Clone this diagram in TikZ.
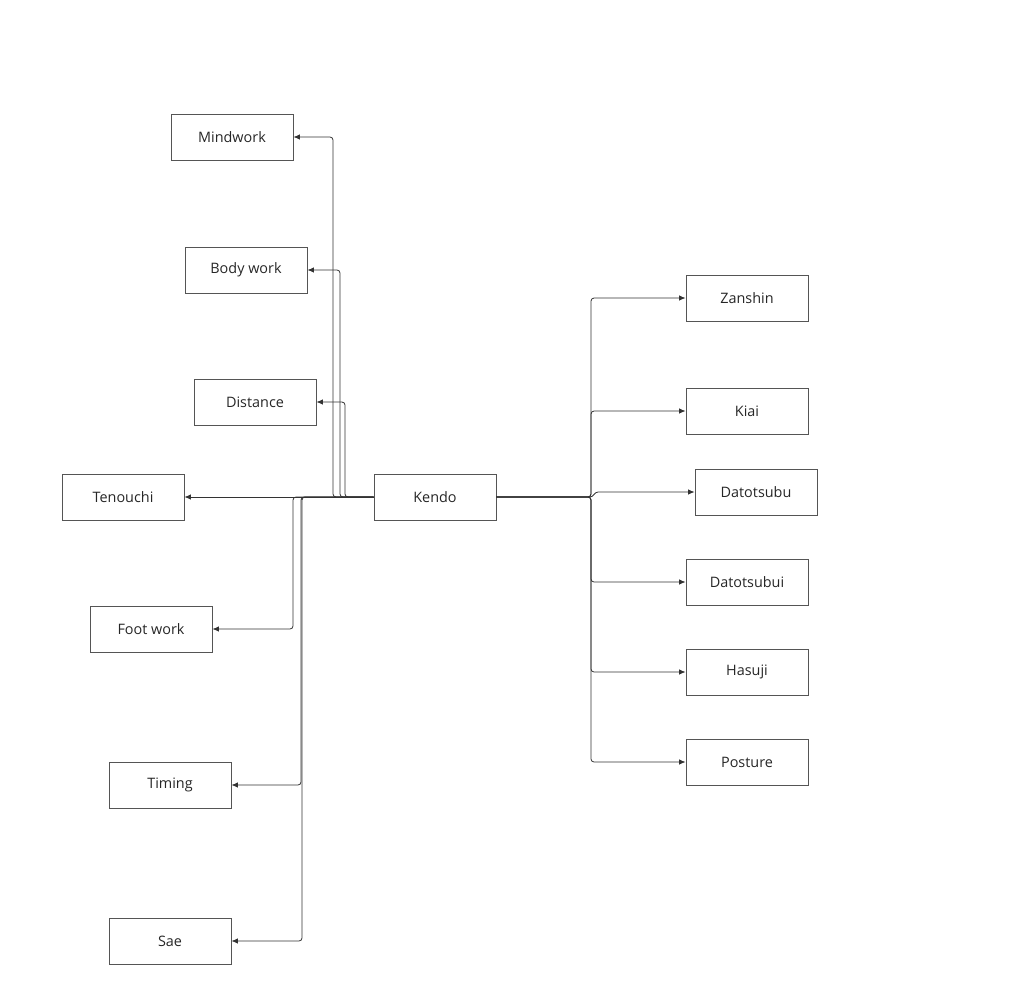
\documentclass[tikz,border=0pt]{standalone}
\usepackage{fontspec}
\setmainfont{Open Sans}
\usetikzlibrary{arrows.meta}
\definecolor{edge}{HTML}{333333}
\definecolor{boxline}{HTML}{555555}
\begin{document}
\begin{tikzpicture}[x=1pt,y=-1pt,
  box/.style={draw=boxline,line width=0.9pt,minimum width=122pt,minimum height=46pt,inner sep=0pt,font=\fontsize{14.4pt}{16pt}\selectfont,text=black!85},
  lbl/.style={yshift=-1pt},
  link/.style={draw=edge,line width=0.8pt,rounded corners=3pt,-{Latex[length=6.5pt,width=5.5pt]}}]
\useasboundingbox (0,0) rectangle (1016,983);
\node[box] (mind) at (232,137) {\raisebox{-1pt}{Mindwork}};
\node[box] (body) at (246,270) {\raisebox{-1pt}{Body work}};
\node[box] (dist) at (255,402) {\raisebox{-1pt}{Distance}};
\node[box] (ten) at (123,497) {\raisebox{-1pt}{Tenouchi}};
\node[box] (kendo) at (435,497) {\raisebox{-1pt}{Kendo}};
\node[box] (foot) at (151,629) {\raisebox{-1pt}{Foot work}};
\node[box] (timing) at (170,785) {\raisebox{-1pt}{Timing}};
\node[box] (sae) at (170,941) {\raisebox{-1pt}{Sae}};
\node[box] (zan) at (747,298) {\raisebox{-1pt}{Zanshin}};
\node[box] (kiai) at (747,411) {\raisebox{-1pt}{Kiai}};
\node[box] (dat) at (756,492) {\raisebox{-1pt}{Datotsubu}};
\node[box] (dati) at (747,582) {\raisebox{-1pt}{Datotsubui}};
\node[box] (hasu) at (747,672) {\raisebox{-1pt}{Hasuji}};
\node[box] (post) at (747,762) {\raisebox{-1pt}{Posture}};
% left connectors
\draw[link] (kendo.west) -- (333,497) |- (mind.east);
\draw[link] (kendo.west) -- (340,497) |- (body.east);
\draw[link] (kendo.west) -- (345,497) |- (dist.east);
\draw[link] (kendo.west) -- (ten.east);
\draw[link] (kendo.west) -- (293,497) |- (foot.east);
\draw[link] (kendo.west) -- (301,497) |- (timing.east);
\draw[link] (kendo.west) -- (302,497) |- (sae.east);
% right connectors
\draw[link] (kendo.east) -- (591,497) |- (zan.west);
\draw[link] (kendo.east) -- (591,497) |- (kiai.west);
\draw[link,rounded corners=0pt] (kendo.east) -- (590,497) to[out=0,in=180] (598,492) -- (dat.west);
\draw[link] (kendo.east) -- (591,497) |- (dati.west);
\draw[link] (kendo.east) -- (591,497) |- (hasu.west);
\draw[link] (kendo.east) -- (591,497) |- (post.west);
\end{tikzpicture}
\end{document}
